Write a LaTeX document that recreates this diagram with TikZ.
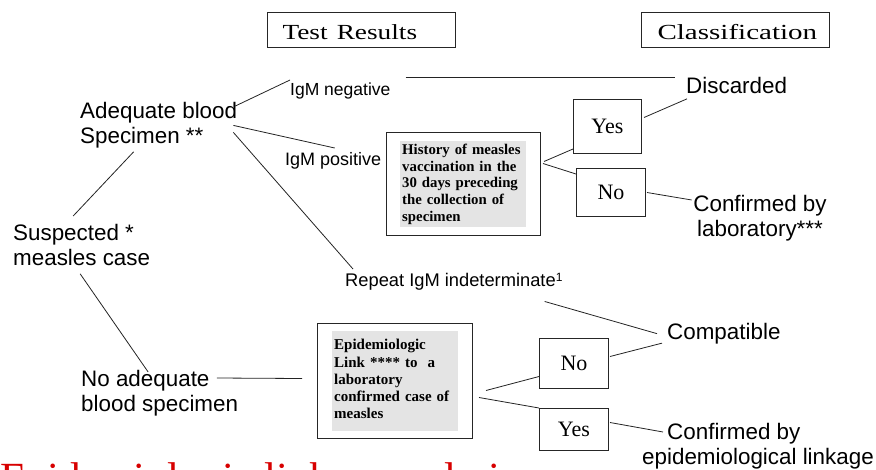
\documentclass[tikz,border=0pt]{standalone}
\usepackage{fontspec}
\setmainfont{Liberation Serif}
\newfontfamily\arialf{Liberation Sans}
\usepackage{graphicx}
\definecolor{redtitle}{RGB}{215,0,0}
\definecolor{boxgray}{RGB}{228,228,228}
\definecolor{linecol}{RGB}{35,35,35}
\begin{document}
\begin{tikzpicture}[x=1pt,y=-1pt,
  lbl/.style={inner sep=0pt, font=\arialf\fontsize{22.4}{25.5}\selectfont, align=left},
  sml/.style={inner sep=0pt, font=\arialf\fontsize{17.5}{20}\selectfont},
  hdr/.style={draw=black!85, line width=1.1pt, inner ysep=0pt, minimum height=35pt, text height=18pt, text depth=0pt, anchor=north west, font=\fontsize{21.5}{24}\selectfont},
  yn/.style={draw=black!85, line width=1pt, inner sep=0pt, anchor=north west, font=\fontsize{22}{24}\selectfont},
  obox/.style={draw=black!85, line width=1pt, inner sep=0pt, anchor=north west},
  gbox/.style={fill=boxgray, inner xsep=2pt, inner ysep=0pt, anchor=north west, align=left, text width=122pt, minimum width=126pt},
  conn/.style={draw=linecol, line width=0.8pt}]

\useasboundingbox (0,0) rectangle (876,469);

% header boxes
\node[hdr, inner xsep=15pt, text width=158pt, align=left] (testres) at (267,12) {\scalebox{1.27}[1]{Test Results}};
\node[hdr, inner xsep=16pt, text width=156pt, align=left] (classif) at (641,12) {\scalebox{1.35}[1]{Classification}};

% question boxes
\node[obox, minimum width=154pt, minimum height=103pt] (hist) at (386,132) {};
\node[gbox, minimum height=86pt, font=\bfseries\fontsize{14.8}{16.7}\selectfont] (histtext) at (400,141)
  {History of measles\\vaccination in the\\30 days preceding\\the collection of\\specimen};
\node[obox, minimum width=155pt, minimum height=115pt] (epibox) at (317,323) {};
\node[gbox, minimum height=100pt, font=\bfseries\fontsize{15}{17.25}\selectfont] (epitext) at (332,331)
  {Epidemiologic\\Link **** to\ \ a\\laboratory\\confirmed case of\\measles\vspace*{4pt}};

% yes / no boxes
\node[yn, minimum width=68pt, minimum height=54pt] (yes1) at (573,99) {Yes};
\node[yn, minimum width=69pt, minimum height=48pt] (no1) at (576,168) {No};
\node[yn, minimum width=69pt, minimum height=50pt] (no2) at (539,338) {No};
\node[yn, minimum width=69pt, minimum height=42pt] (yes2) at (539,408) {Yes};

% labels
\node[lbl, anchor=north west] (adequate) at (80,102) {Adequate blood\\Specimen **};
\node[lbl, anchor=north west] (suspected) at (13,224) {Suspected *\\measles case};
\node[lbl, anchor=north west] (noadeq) at (81,370) {No adequate\\blood specimen};
\node[sml, anchor=north west] (igmneg) at (290,83) {IgM negative};
\node[sml, anchor=north west, font=\arialf\fontsize{18}{20}\selectfont] (igmpos) at (285,152) {IgM positive};
\node[sml, anchor=north west, font=\arialf\fontsize{18.3}{20}\selectfont] (rep) at (345,273) {Repeat IgM indeterminate\raisebox{5pt}{\fontsize{12}{12}\selectfont 1}};
\node[lbl, anchor=north west] (discarded) at (686,77) {Discarded};
\node[lbl, anchor=north, align=center] (conflab) at (760,195) {Confirmed by\\laboratory***};
\node[lbl, anchor=north west] (compatible) at (667,323) {Compatible};
\node[lbl, anchor=north west] (confepi) at (642,423) {\hspace*{25pt}Confirmed by\\epidemiological linkage};

% red title (cut by the page edge, as in the reference)
\node[inner sep=0pt, anchor=base west, text=redtitle, font=\fontsize{43}{43}\selectfont] (title) at (0,492) {Epidemiologic linkage only in a};

% connectors
\draw[conn] ([xshift=-2pt,yshift=-4pt]adequate.north east) -- ([yshift=3pt]igmneg.north west);
\draw[conn] ([xshift=-4pt]adequate.east) -- ([xshift=1.5pt,yshift=4pt]igmpos.north);
\draw[conn] ([xshift=-4pt,yshift=-7pt]adequate.east) -- ([xshift=8pt,yshift=4pt]rep.north west);
\draw[conn] ([xshift=-25pt,yshift=-3pt]adequate.south) -- ([xshift=-8.5pt,yshift=8pt]suspected.north);
\draw[conn] ([xshift=-1.5pt,yshift=-7.5pt]suspected.south) -- ([xshift=-11.5pt,yshift=-2pt]noadeq.north);
\draw[conn] ([xshift=-21.5pt,yshift=-8pt]noadeq.north east) -- ([xshift=-15pt,yshift=2.5pt]epibox.west);
\draw[conn] ([xshift=15pt,yshift=6pt]igmneg.north east) -- ([xshift=-11pt]discarded.north west);
\draw[conn] ([xshift=3pt,yshift=22.5pt]hist.east) -- ([yshift=5pt]yes1.south west);
\draw[conn] ([xshift=2pt,yshift=20.5pt]hist.east) -- ([yshift=-6pt]no1.north west);
\draw[conn] ([xshift=2pt,yshift=9pt]yes1.east) -- ([xshift=1pt,yshift=-5pt]discarded.south west);
\draw[conn] ([xshift=1pt]no1.east) -- ([xshift=-1.5pt,yshift=-5pt]conflab.north west);
\draw[conn] ([xshift=-18pt,yshift=-11pt]rep.south east) -- ([xshift=-10pt]compatible.west);
\draw[conn] ([xshift=1pt,yshift=7pt]no2.east) -- ([xshift=-5pt,yshift=-9.5pt]compatible.west);
\draw[conn] ([xshift=13pt,yshift=-9.5pt]epibox.east) -- ([yshift=-13pt]no2.west);
\draw[conn] ([xshift=6pt,yshift=-16.5pt]epibox.east) -- (yes2.north west);
\draw[conn] ([xshift=1pt,yshift=7pt]yes2.east) -- ([xshift=21pt,yshift=-9pt]confepi.north west);
\end{tikzpicture}
\end{document}
